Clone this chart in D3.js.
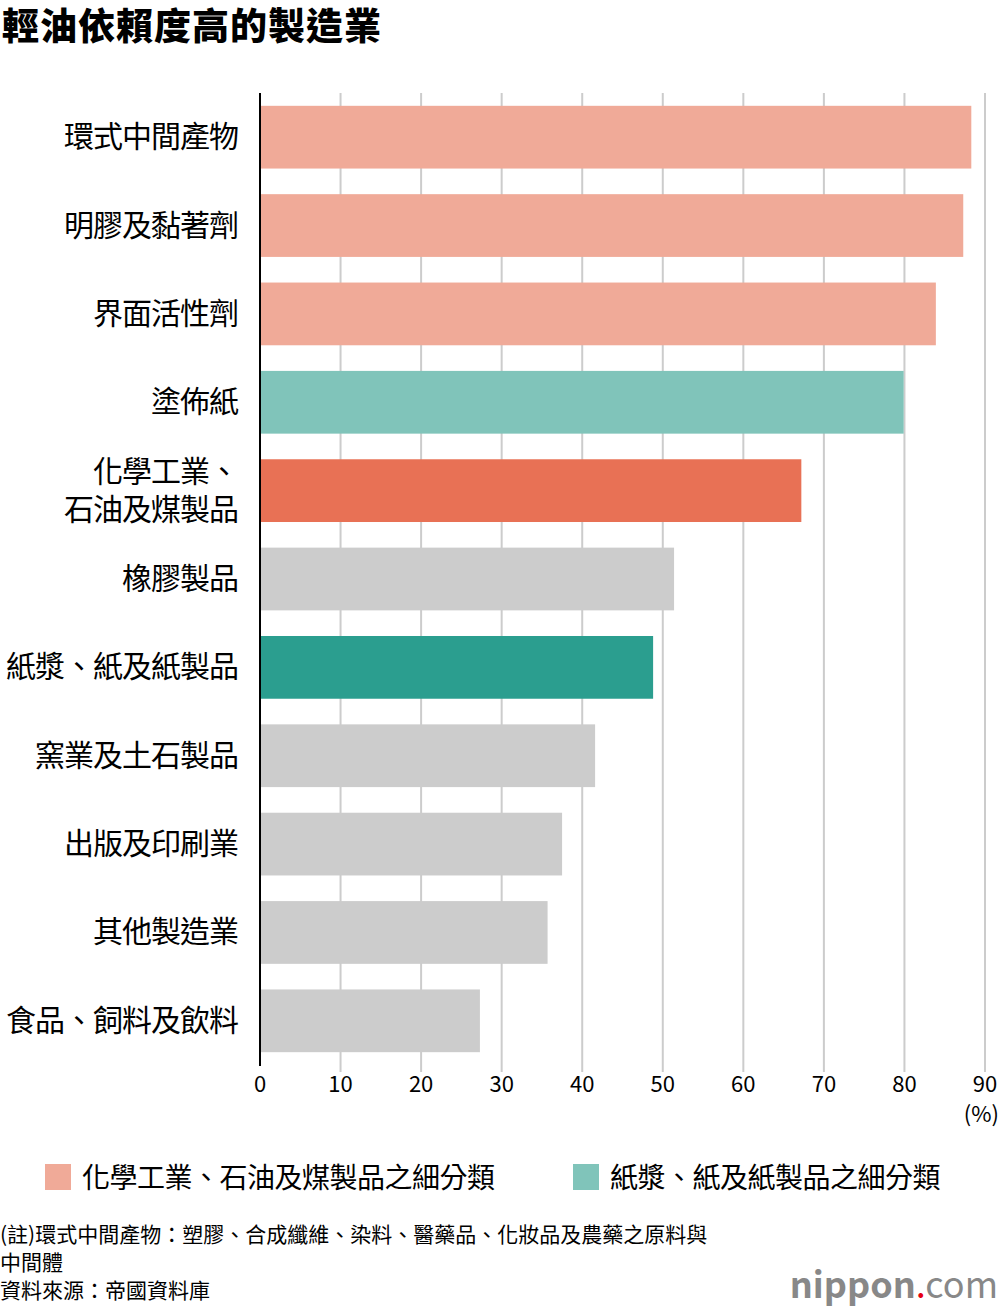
<!DOCTYPE html>
<html><head><meta charset="utf-8">
<script src="https://cdn.jsdelivr.net/npm/d3@7/dist/d3.min.js"></script>
<style>body{margin:0;background:#fff}text{font-family:"Noto Sans CJK TC","Noto Sans",sans-serif}</style>
</head><body><svg id="c" width="1000" height="1310"></svg>
<script>
const categories=["環式中間產物","明膠及黏著劑","界面活性劑","塗佈紙","化學工業、\n石油及煤製品","橡膠製品","紙漿、紙及紙製品","窯業及土石製品","出版及印刷業","其他製造業","食品、飼料及飲料"];
const values=[88.3,87.3,83.9,79.9,67.2,51.4,48.8,41.6,37.5,35.7,27.3];
const groups=["chem","chem","chem","paper","chemMain","other","paperMain","other","other","other","other"];
const colors={chem:"#f0aa98",paper:"#80c4ba",chemMain:"#e87155",paperMain:"#2b9e8f",other:"#cccccc"};
const ticks=[0,10,20,30,40,50,60,70,80,90];
const legend=[["化學工業、石油及煤製品之細分類","chem"],["紙漿、紙及紙製品之細分類","paper"]];
const svg=d3.select("#c");
const x=d3.scaleLinear().domain([0,90]).range([260,985]);
const y=d3.scaleBand().domain(categories).range([93,1065]).paddingInner(0.29).paddingOuter(0.145);
svg.append("text").attr("x",2).attr("y",40).attr("font-size",37).attr("font-weight",900).attr("letter-spacing",1).text("輕油依賴度高的製造業");
svg.selectAll("line.g").data(ticks.slice(1)).join("line").attr("x1",d=>x(d)).attr("x2",d=>x(d)).attr("y1",93).attr("y2",1072).attr("stroke","#cccccc").attr("stroke-width",2);
svg.selectAll("rect.b").data(categories).join("rect").attr("x",x(0)).attr("y",d=>y(d)).attr("height",y.bandwidth()).attr("width",(d,i)=>x(values[i])-x(0)).attr("fill",(d,i)=>colors[groups[i]]);
svg.append("line").attr("x1",260).attr("x2",260).attr("y1",93).attr("y2",1066).attr("stroke","#000").attr("stroke-width",2);
svg.selectAll("text.t").data(ticks).join("text").attr("x",d=>x(d)).attr("y",1092).attr("text-anchor","middle").attr("font-size",22).text(d=>d);
svg.append("text").attr("x",999).attr("y",1122).attr("text-anchor","end").attr("font-size",22).text("(%)");
categories.forEach(c=>{const lines=c.split("\n");const cy=y(c)+y.bandwidth()/2;
 lines.forEach((l,j)=>svg.append("text").attr("x",238).attr("y",cy+(j-(lines.length-1)/2)*38+10).attr("text-anchor","end").attr("font-size",30).attr("letter-spacing",-1).text(l));});
let lx=[45,573];
legend.forEach((l,i)=>{svg.append("rect").attr("x",lx[i]).attr("y",1164).attr("width",26).attr("height",26).attr("fill",colors[l[1]]);
 svg.append("text").attr("x",lx[i]+37).attr("y",1188).attr("font-size",28).attr("letter-spacing",-0.5).text(l[0]);});
[["(註)環式中間產物：塑膠、合成纖維、染料、醫藥品、化妝品及農藥之原料與",1242],["中間體",1270],["資料來源：帝國資料庫",1298]].forEach(t=>svg.append("text").attr("x",0).attr("y",t[1]).attr("font-size",21).text(t[0]));
const lg=svg.append("text").attr("x",998).attr("y",1298).attr("text-anchor","end").attr("font-size",36).attr("fill","#888");
lg.append("tspan").attr("font-weight",700).text("nippon");lg.append("tspan").attr("fill","#e60012").text(".");lg.append("tspan").text("com");
</script></body></html>
